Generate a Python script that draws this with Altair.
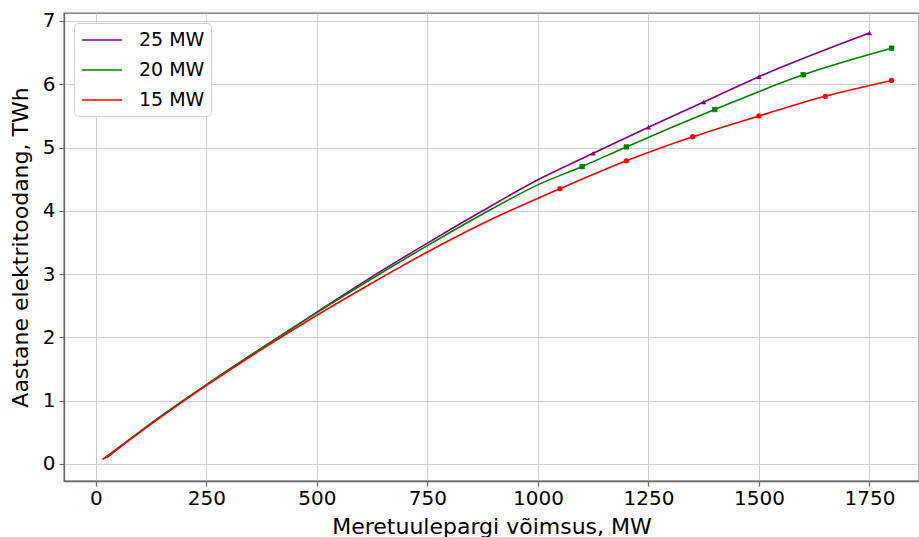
import altair as alt
import pandas as pd

# ---- data ----
series = ["25 MW", "20 MW", "15 MW"]

curve25_x = [25, 125, 250, 375, 500, 625, 750, 875, 1000]
curve25_y = [0.10, 0.64, 1.25, 1.83, 2.40, 2.96, 3.49, 4.00, 4.49]
mark25_x = [1125, 1250, 1375, 1500, 1750]
mark25_y = [4.91, 5.32, 5.72, 6.12, 6.81]

curve20_x = [20, 125, 250, 375, 500, 625, 750, 875, 1000]
curve20_y = [0.09, 0.64, 1.25, 1.83, 2.39, 2.93, 3.45, 3.95, 4.41]
mark20_x = [1100, 1200, 1400, 1600, 1800]
mark20_y = [4.70, 5.01, 5.60, 6.15, 6.57]

curve15_x = [15, 125, 250, 375, 500, 625, 750, 875, 1000]
curve15_y = [0.07, 0.63, 1.24, 1.81, 2.35, 2.86, 3.35, 3.80, 4.20]
mark15_x = [1050, 1200, 1350, 1500, 1650, 1800]
mark15_y = [4.35, 4.79, 5.17, 5.50, 5.81, 6.06]

x_ticks = [0, 250, 500, 750, 1000, 1250, 1500, 1750]
y_ticks = [0, 1, 2, 3, 4, 5, 6, 7]

colors = ["purple", "green", "red"]
shapes = ["triangle-up", "square", "circle"]

curves = [(curve25_x, curve25_y, mark25_x, mark25_y),
          (curve20_x, curve20_y, mark20_x, mark20_y),
          (curve15_x, curve15_y, mark15_x, mark15_y)]

line_rows = []
mark_dfs = []
for k, (name, (cx, cy, mx, my)) in enumerate(zip(series, curves)):
    for x, y in zip(cx + mx, cy + my):
        line_rows.append({"s": name, "x": x, "y": y, "o": k})
    mark_dfs.append(pd.DataFrame({"x": mx, "y": my}))

line_df = pd.DataFrame(line_rows)

FONT = "DejaVu Sans"

xscale = alt.Scale(domain=[-72, 1862], nice=False, zero=False)
yscale = alt.Scale(domain=[-0.27, 7.126], nice=False, zero=False)
cscale = alt.Scale(domain=series, range=colors)

xaxis = alt.Axis(title="Meretuulepargi võimsus, MW", values=x_ticks, format="d",
                 labelFontSize=20, titleFontSize=22, titleFontWeight="normal",
                 tickSize=5, labelPadding=2, titlePadding=8, grid=True)
yaxis = alt.Axis(title="Aastane elektritoodang, TWh", values=y_ticks, format="d",
                 labelFontSize=20, titleFontSize=22, titleFontWeight="normal",
                 tickSize=5, labelPadding=4, titlePadding=10, grid=True)

lines = alt.Chart(line_df).mark_line(strokeWidth=1.6, interpolate="monotone").encode(
    x=alt.X("x:Q", scale=xscale, axis=xaxis),
    y=alt.Y("y:Q", scale=yscale, axis=yaxis),
    color=alt.Color("s:N", scale=cscale, sort=series,
                    legend=alt.Legend(title=None, orient="none", legendX=10, legendY=10,
                                      symbolType="M-2,0H2", symbolSize=400,
                                      symbolOffset=11,
                                      symbolStrokeWidth=1.6, labelFontSize=19,
                                      labelOffset=26, rowPadding=9, padding=6,
                                      fillColor="white", strokeColor="#d0d0d0",
                                      cornerRadius=4)),
    order=alt.Order("o:Q"),
    detail="s:N",
)

layers = [lines]
for df, col, shp in zip(mark_dfs, colors, shapes):
    layers.append(
        alt.Chart(df).mark_point(filled=True, size=28, opacity=1, color=col, shape=shp).encode(
            x=alt.X("x:Q", scale=xscale),
            y=alt.Y("y:Q", scale=yscale),
        )
    )

chart = alt.layer(*layers).properties(
    width=855, height=468,
    autosize=alt.AutoSizeParams(type="none"),
    padding={"left": 64, "top": 13, "right": 0, "bottom": 56},
).configure(font=FONT).configure_axis(
    labelFont=FONT, titleFont=FONT, labelColor="#000", titleColor="#000",
    gridColor="#cfcfcf", gridWidth=1, domainColor="#666", domainWidth=1.3,
    tickColor="#666", tickWidth=1.2,
).configure_legend(labelFont=FONT, labelColor="#000").configure_view(
    stroke="#666", strokeWidth=1.3
)

chart.save("out.html", embed_options={"renderer": "svg", "actions": False})
